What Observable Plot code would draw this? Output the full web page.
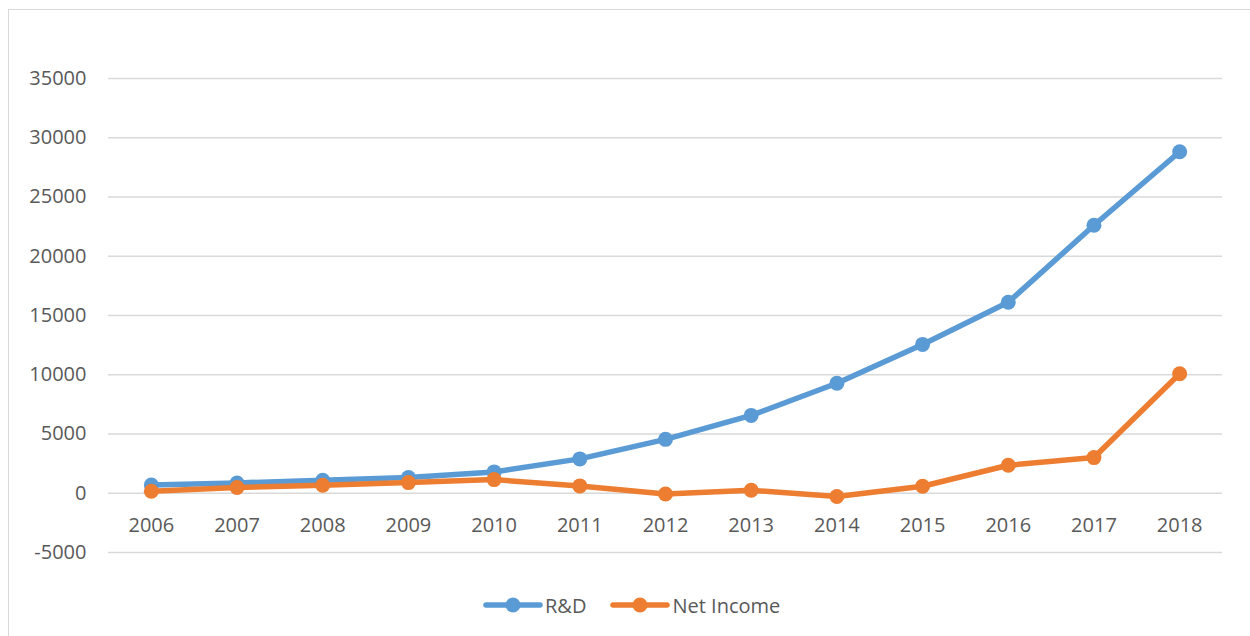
<!DOCTYPE html>
<html>
<head>
<meta charset="utf-8">
<script src="https://cdn.jsdelivr.net/npm/d3@7"></script>
<script src="https://cdn.jsdelivr.net/npm/@observablehq/plot@0.6"></script>
<style>
  html, body { margin: 0; padding: 0; background: #fff; overflow: hidden; }
  body { width: 1250px; height: 636px; position: relative; font-family: "Open Sans", sans-serif; }
  #frame { position: absolute; left: 8px; top: 9px; width: 1260px; height: 660px;
           border: 1px solid #d9d9d9; box-sizing: border-box; }
  #chart { position: absolute; left: 0; top: 0; }
  #legend { position: absolute; left: 474px; top: 580px; display: flex; align-items: center;
            font-size: 20px; color: #595959; height: 30px; }
  .item { display: flex; align-items: center; }
  .item + .item { margin-left: 24px; }
  .item svg { margin-right: 0px; }
</style>
</head>
<body>
<div id="frame">
  <div id="chart"></div>
  <div id="legend"></div>
</div>
<script>
const years = ["2006","2007","2008","2009","2010","2011","2012","2013","2014","2015","2016","2017","2018"];
const rd = [700, 870, 1100, 1320, 1800, 2900, 4550, 6570, 9280, 12560, 16120, 22610, 28820];
const netIncome = [170, 480, 680, 900, 1150, 620, -60, 250, -280, 590, 2360, 3010, 10090];
const yTicks = [-5000, 0, 5000, 10000, 15000, 20000, 25000, 30000, 35000];
const seriesNames = ["R&D", "Net Income"];
const seriesColors = ["#5B9BD5", "#ED7D31"];

const rows = (vals, s) => years.map((y, i) => ({year: y, value: vals[i], series: s}));
const rdRows = rows(rd, seriesNames[0]);
const niRows = rows(netIncome, seriesNames[1]);

const chart = Plot.plot({
  width: 1236,
  height: 562,
  marginLeft: 99,
  marginRight: 23,
  marginTop: 68,
  marginBottom: 20,
  style: {fontFamily: "'Open Sans', sans-serif", fontSize: "20px", color: "#595959", background: "transparent"},
  x: {type: "point", domain: years, padding: 0.5, round: false, axis: null},
  y: {domain: [-5000, 35000], ticks: yTicks, axis: null},
  color: {domain: seriesNames, range: seriesColors},
  marks: [
    Plot.gridY(yTicks, {stroke: "#d9d9d9", strokeOpacity: 1, strokeWidth: 1.4}),
    Plot.axisY(yTicks, {tickSize: 0, tickPadding: 22, tickFormat: d => String(d), fill: "#595959", fontSize: 20, label: null}),
    Plot.text(years, {x: d => d, y: () => 0, text: d => d, dy: 32, fill: "#595959", fontSize: 20}),
    Plot.line(rdRows, {x: "year", y: "value", stroke: "series", strokeWidth: 5.5, strokeLinejoin: "round", strokeLinecap: "round"}),
    Plot.dot(rdRows, {x: "year", y: "value", fill: "series", r: 7.5, stroke: null}),
    Plot.line(niRows, {x: "year", y: "value", stroke: "series", strokeWidth: 5.5, strokeLinejoin: "round", strokeLinecap: "round"}),
    Plot.dot(niRows, {x: "year", y: "value", fill: "series", r: 7.5, stroke: null})
  ]
});
document.getElementById("chart").appendChild(chart);

const legend = document.getElementById("legend");
seriesNames.forEach((name, i) => {
  const item = document.createElement("div");
  item.className = "item";
  item.innerHTML = `<svg width="62" height="20"><line x1="3" y1="10" x2="57" y2="10" stroke="${seriesColors[i]}" stroke-width="5.5" stroke-linecap="round"/><circle cx="30" cy="10" r="7.5" fill="${seriesColors[i]}"/></svg><span>${name}</span>`;
  legend.appendChild(item);
});
</script>
</body>
</html>
